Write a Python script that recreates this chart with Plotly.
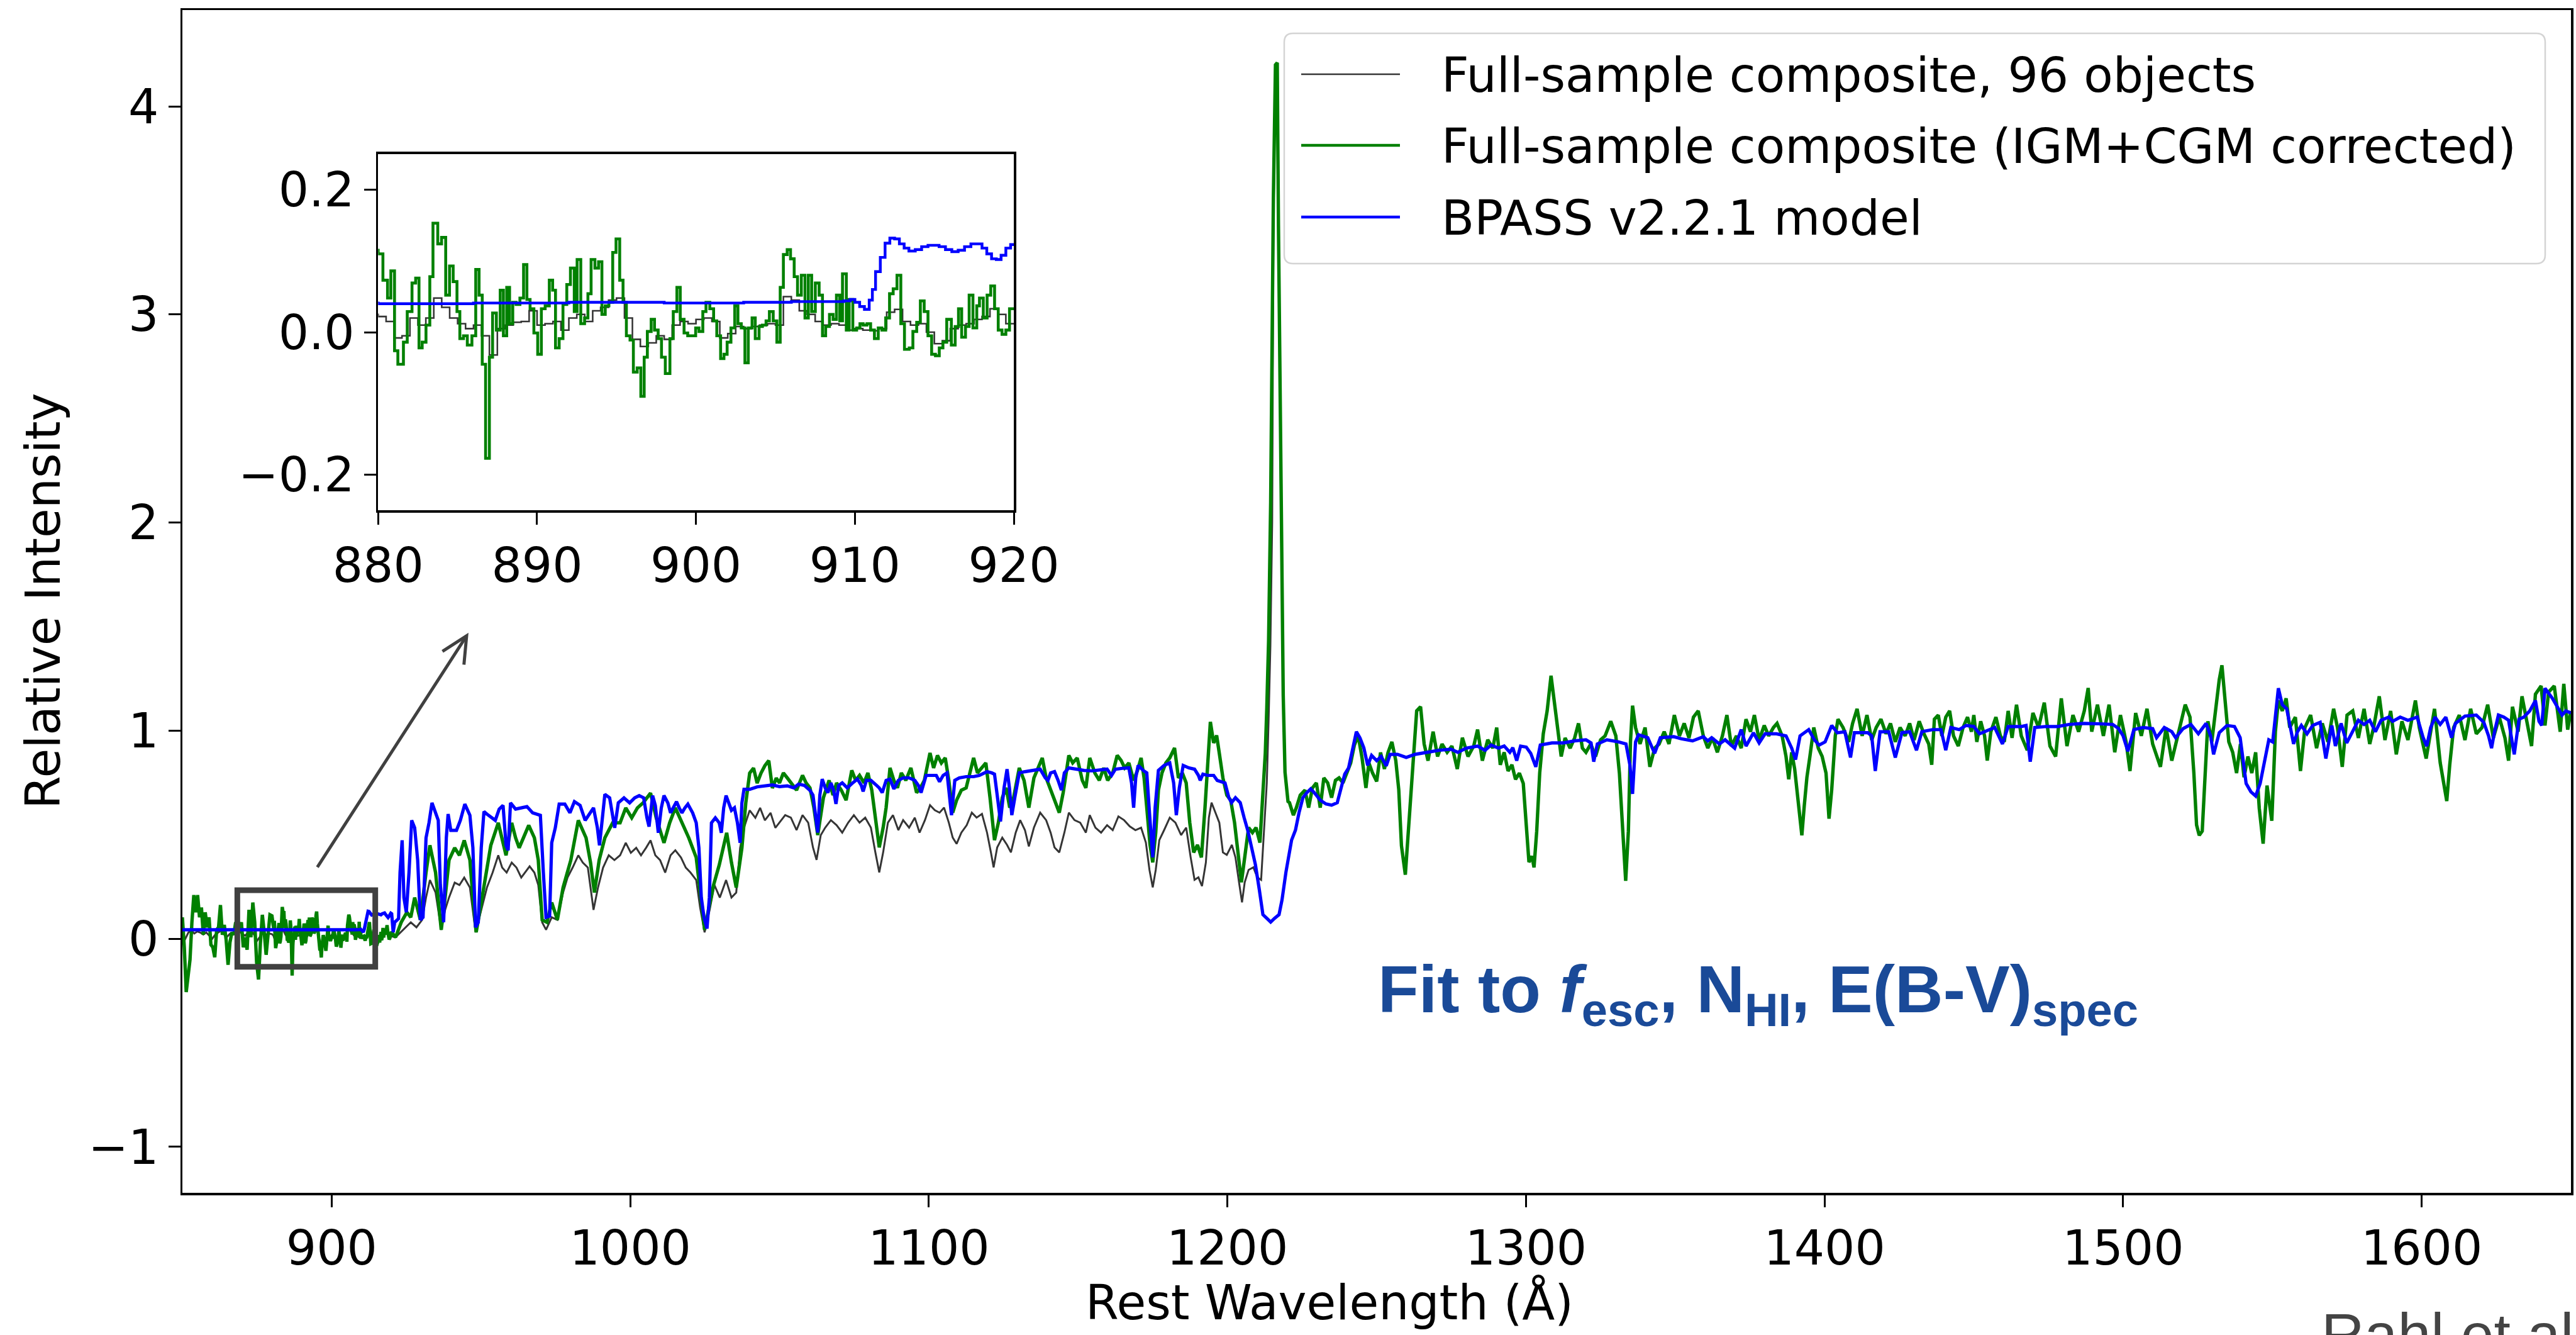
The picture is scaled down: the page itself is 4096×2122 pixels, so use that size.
import plotly.graph_objects as go

# ---------------- data ----------------
GREEN_WAVE = [
    850.0, 850.64, 851.28, 851.91, 852.55, 853.19, 853.83, 854.46, 855.1, 855.74, 856.38, 857.01,
    857.65, 858.29, 858.93, 859.56, 860.2, 860.84, 861.48, 862.11, 862.75, 863.39, 864.03, 864.66,
    865.3, 865.94, 866.58, 867.21, 867.85, 868.49, 869.13, 869.76, 870.4, 871.04, 871.68, 872.31,
    872.95, 873.59, 874.23, 874.86, 875.5, 876.14, 876.78, 877.41, 878.05, 878.69, 879.33,
    # 880-920 (fine binning, as seen in the inset)
    880.0, 880.3, 880.59, 880.8, 881.03, 881.24, 881.59, 881.83, 882.13, 882.36, 882.57, 882.77,
    883.01, 883.25, 883.45, 883.75, 883.99, 884.25, 884.49, 884.72, 884.96, 885.14, 885.37, 885.61,
    885.9, 886.14, 886.35, 886.55, 886.76, 887.0, 887.2, 887.44, 887.68, 887.88, 888.09, 888.27,
    888.47, 888.68, 888.92, 889.15, 889.36, 889.56, 889.8, 890.04, 890.27, 890.51, 890.77, 890.98,
    891.16, 891.39, 891.63, 891.87, 892.1, 892.34, 892.52, 892.75, 892.99, 893.2, 893.4, 893.64,
    893.87, 894.08, 894.29, 894.52, 894.76, 894.97, 895.2, 895.41, 895.62, 895.85, 896.06, 896.3,
    896.53, 896.74, 896.94, 897.18, 897.39, 897.62, 897.83, 898.07, 898.36, 898.57, 898.8, 899.01,
    899.25, 899.48, 899.72, 899.98, 900.19, 900.43, 900.63, 900.87, 901.11, 901.31, 901.55, 901.76,
    901.96, 902.2, 902.44, 902.64, 902.85, 903.08, 903.29, 903.53, 903.73, 903.97, 904.18, 904.41,
    904.62, 904.86, 905.09, 905.3, 905.5, 905.74, 905.95, 906.18, 906.39, 906.63, 906.86, 907.07,
    907.28, 907.51, 907.75, 907.96, 908.16, 908.4, 908.63, 908.84, 909.05, 909.22, 909.46, 909.64,
    909.87, 910.11, 910.32, 910.52, 910.76, 910.99, 911.23, 911.47, 911.7, 911.94, 912.18, 912.41,
    912.65, 912.89, 913.12, 913.42, 913.65, 913.89, 914.12, 914.36, 914.6, 914.83, 915.07, 915.31,
    915.54, 915.78, 916.07, 916.31, 916.52, 916.72, 916.96, 917.19, 917.43, 917.67, 917.84, 918.08,
    918.32, 918.55, 918.79, 919.02, 919.26, 919.5, 919.73, 920.0,
    # 920-1050
    921.4, 923.3, 925.2, 926.5, 927.8, 929.7, 931.6, 932.9, 934.8, 936.7, 938.0, 939.3, 941.2,
    942.8, 944.4, 946.3, 947.3, 948.4, 949.7, 951.4, 953.3, 955.8, 958.4, 960.3, 961.6, 962.8,
    964.8, 966.0, 967.9, 969.2, 970.5, 972.1, 973.7, 975.6, 977.5, 980.1, 982.6, 985.2, 986.7,
    988.0, 989.6, 991.5, 994.1, 996.6, 998.5, 1000.5, 1002.4, 1004.3, 1006.8, 1008.7, 1011.3,
    1013.2, 1015.1, 1017.0, 1019.6, 1022.1, 1023.7, 1024.9, 1026.2, 1027.9, 1029.8, 1032.3,
    1033.9, 1035.5, 1037.4, 1038.7, 1040.0, 1041.3, 1042.5, 1043.8, 1045.1, 1046.4, 1047.6, 1048.9,
    # 1050-1213
    1050.0, 1051.3, 1052.6, 1053.8, 1055.7, 1057.7, 1058.9, 1060.2, 1061.5, 1062.8, 1063.8, 1064.7,
    1066.6, 1067.9, 1069.1, 1070.7, 1072.3, 1074.2, 1075.5, 1076.8, 1078.3, 1079.6, 1080.9, 1081.9,
    1083.4, 1084.7, 1085.7, 1087.0, 1088.3, 1089.5, 1090.8, 1092.3, 1094.0, 1095.9, 1097.2, 1098.5,
    1100.4, 1101.6, 1102.9, 1104.2, 1105.5, 1106.7, 1108.0, 1109.3, 1110.9, 1112.5, 1113.8, 1115.0,
    1116.3, 1117.8, 1119.1, 1120.5, 1122.0, 1123.3, 1124.6, 1125.9, 1127.1, 1128.4, 1130.3, 1131.9,
    1133.5, 1135.2, 1136.7, 1138.0, 1139.3, 1140.8, 1142.1, 1143.7, 1145.0, 1146.9, 1148.2, 1149.7,
    1151.4, 1152.6, 1153.9, 1155.6, 1157.1, 1158.6, 1159.9, 1161.6, 1163.1, 1164.4, 1165.6, 1167.0,
    1168.6, 1169.9, 1171.1, 1172.1, 1173.0, 1174.1, 1175.0, 1176.0, 1176.9, 1178.1, 1179.4, 1180.7,
    1182.3, 1183.6, 1184.9, 1186.2, 1187.4, 1188.7, 1190.0, 1191.3, 1192.5, 1193.6, 1194.3, 1195.4,
    1196.4, 1197.4, 1198.5, 1199.8, 1201.1, 1202.4, 1203.6, 1204.7, 1205.8, 1207.1, 1208.4, 1209.6,
    1210.9, 1211.9, 1212.7, 1213.2,
    # Lyman alpha
    1213.8, 1214.5, 1215.4, 1216.1, 1216.7, 1217.1, 1217.4, 1218.0, 1218.7, 1219.3, 1220.3,
    # 1220-1250
    1220.8, 1222.1, 1223.1, 1224.4, 1226.0, 1227.2, 1228.5, 1229.8, 1231.1, 1232.3, 1233.6, 1234.9,
    1236.2, 1237.4, 1238.7, 1240.0, 1241.3, 1242.5, 1243.8, 1245.1, 1246.4, 1247.4, 1248.6,
    # 1250-1450
    1250.0, 1251.3, 1252.6, 1253.8, 1255.1, 1256.4, 1257.4, 1258.3, 1259.6, 1260.8, 1262.1, 1263.4,
    1264.7, 1265.9, 1267.2, 1268.9, 1270.4, 1271.9, 1273.6, 1275.2, 1277.0, 1278.7, 1280.6, 1282.5,
    1283.8, 1285.4, 1287.2, 1288.9, 1290.2, 1291.4, 1292.7, 1294.0, 1295.3, 1296.5, 1297.8, 1299.1,
    1300.1, 1301.0, 1302.0, 1302.7, 1303.6, 1304.6, 1305.8, 1307.1, 1308.4, 1309.4, 1310.6, 1311.8,
    1313.1, 1314.8, 1316.3, 1317.6, 1318.9, 1320.1, 1321.7, 1323.3, 1325.0, 1326.5, 1328.4, 1330.1,
    1331.3, 1332.4, 1333.4, 1334.3, 1335.0, 1335.7, 1336.7, 1338.2, 1339.9, 1341.5, 1343.1, 1344.6,
    1346.3, 1347.9, 1349.7, 1351.4, 1353.0, 1354.6, 1356.1, 1357.7, 1359.4, 1360.9, 1362.5, 1364.1,
    1365.8, 1367.3, 1368.8, 1370.5, 1372.1, 1373.7, 1375.2, 1376.5, 1378.1, 1379.8, 1381.3, 1382.9,
    1384.1, 1385.8, 1387.1, 1388.0, 1389.0, 1390.0, 1391.0, 1391.8, 1392.4, 1393.2, 1394.1, 1395.1,
    1396.4, 1397.9, 1399.2, 1400.5, 1401.5, 1402.4, 1403.6, 1404.5, 1406.2, 1408.1, 1409.4, 1410.9,
    1412.6, 1414.2, 1415.8, 1417.3, 1418.9, 1420.6, 1422.1, 1423.7, 1425.3, 1427.0, 1428.5, 1430.0,
    1431.7, 1433.3, 1434.9, 1435.9, 1436.8, 1438.1, 1439.3, 1440.6, 1441.9, 1443.2, 1444.8, 1446.4,
    1447.9, 1449.2,
    # 1450-1650
    1450.0, 1451.0, 1452.3, 1453.6, 1454.5, 1455.7, 1457.4, 1458.9, 1460.2, 1461.5, 1462.8, 1464.3,
    1465.9, 1467.9, 1469.8, 1471.7, 1473.6, 1475.5, 1477.4, 1479.3, 1481.2, 1483.2, 1485.1, 1487.0,
    1488.3, 1489.5, 1491.4, 1493.4, 1495.3, 1497.2, 1499.1, 1501.0, 1502.3, 1504.2, 1506.1, 1508.0,
    1509.9, 1512.5, 1514.4, 1516.3, 1518.9, 1520.8, 1522.4, 1523.7, 1524.6, 1525.5, 1526.5, 1527.5,
    1528.4, 1529.7, 1531.3, 1532.2, 1533.1, 1534.2, 1535.4, 1536.7, 1538.0, 1539.3, 1540.5, 1541.8,
    1543.1, 1544.4, 1545.6, 1546.9, 1548.2, 1549.8, 1551.0, 1552.0, 1553.3, 1554.6, 1555.8, 1557.7,
    1559.4, 1560.9, 1562.8, 1564.8, 1566.7, 1568.6, 1570.5, 1571.8, 1573.4, 1575.0, 1576.9, 1578.8,
    1580.7, 1582.6, 1583.9, 1585.8, 1587.7, 1589.6, 1591.5, 1593.4, 1595.4, 1597.9, 1599.2, 1601.5,
    1603.0, 1604.3, 1606.2, 1607.5, 1608.4, 1609.4, 1610.7, 1612.6, 1614.5, 1616.4, 1618.3, 1620.2,
    1622.1, 1624.0, 1626.0, 1627.9, 1629.1, 1630.4, 1632.3, 1633.6, 1635.5, 1636.8, 1638.1, 1640.0,
    1641.3, 1642.5, 1644.4, 1646.4, 1647.6, 1648.9, 1650.0,
]
GREEN_FLUX = [
    0.103, -0.041, -0.256, -0.160, -0.101, 0.079, 0.210, 0.127, 0.210, 0.103, 0.150, 0.019,
    0.127, 0.055, 0.103, -0.029, -0.041, -0.089, 0.043, 0.055, 0.162, 0.019, 0.067, -0.005,
    -0.125, -0.017, 0.031, 0.019, 0.079, 0.055, 0.043, 0.079, -0.041, 0.007, -0.053, 0.139,
    0.007, 0.174, 0.079, -0.113, -0.196, -0.017, 0.115, 0.031, -0.077, 0.019, 0.115,
    # 880-920
    0.110, 0.073, 0.048, 0.086, -0.026, -0.045, -0.014, 0.029, 0.069, 0.076, -0.022, -0.014,
    0.010, 0.078, 0.153, 0.124, 0.133, 0.052, 0.093, 0.071, 0.029, -0.009, -0.005, -0.018,
    -0.005, 0.088, 0.052, -0.045, -0.177, -0.035, 0.027, 0.003, 0.059, -0.005, 0.063, 0.012,
    0.042, 0.039, 0.048, 0.095, 0.046, 0.033, -0.001, -0.031, 0.033, 0.037, 0.073, 0.059,
    -0.022, -0.009, 0.039, 0.067, 0.090, 0.029, 0.102, 0.012, 0.020, 0.054, 0.102, 0.090,
    0.099, 0.025, 0.037, 0.042, 0.112, 0.131, 0.073, 0.042, -0.005, -0.011, -0.056, -0.050,
    -0.090, -0.035, 0.001, 0.018, 0.003, -0.009, -0.035, -0.058, -0.009, 0.029, 0.063, 0.018,
    -0.001, -0.005, -0.005, 0.006, 0.001, 0.029, 0.042, 0.033, 0.016, -0.005, -0.037, -0.031,
    -0.014, 0.006, 0.037, 0.012, 0.006, -0.043, 0.006, 0.020, -0.009, 0.008, 0.010, 0.016,
    0.029, 0.016, -0.014, 0.063, 0.109, 0.116, 0.103, 0.078, 0.052, 0.080, 0.020, 0.080,
    0.029, 0.069, 0.052, -0.005, 0.008, 0.025, 0.018, 0.052, 0.016, 0.082, 0.003, 0.046,
    0.003, 0.006, 0.012, 0.010, 0.012, 0.003, -0.009, 0.006, 0.003, 0.020, 0.054, 0.061,
    0.080, 0.012, -0.024, -0.022, 0.001, 0.014, 0.044, 0.029, -0.005, -0.031, -0.033, -0.022,
    -0.014, 0.018, -0.018, 0.008, 0.033, -0.007, 0.008, 0.052, 0.006, 0.037, 0.048, 0.020,
    0.052, 0.065, 0.033, 0.003, -0.003, 0.003, 0.033, 0.033,
    # 920-1050
    0.007, 0.079, 0.127, 0.103, 0.198, 0.091, 0.318, 0.449, 0.318, 0.043, 0.198, 0.378, 0.437,
    0.401, 0.473, 0.378, 0.198, 0.031, 0.139, 0.282, 0.449, 0.557, 0.401, 0.557, 0.485, 0.437,
    0.509, 0.545, 0.485, 0.378, 0.091, 0.079, 0.174, 0.091, 0.246, 0.378, 0.569, 0.485, 0.366,
    0.222, 0.378, 0.485, 0.557, 0.557, 0.629, 0.581, 0.629, 0.653, 0.700, 0.581, 0.461,
    0.557, 0.629, 0.569, 0.485, 0.390, 0.198, 0.043, 0.139, 0.258, 0.354, 0.509,
    0.366, 0.246, 0.437, 0.653, 0.796, 0.820, 0.748, 0.796, 0.832, 0.856, 0.724, 0.772,
    # 1050-1213
    0.749, 0.797, 0.773, 0.749, 0.714, 0.785, 0.749, 0.725, 0.630, 0.498, 0.582, 0.678,
    0.761, 0.690, 0.749, 0.714, 0.666, 0.809, 0.761, 0.785, 0.749, 0.797, 0.714, 0.594,
    0.439, 0.534, 0.630, 0.821, 0.761, 0.725, 0.797, 0.761, 0.821, 0.702, 0.725, 0.761,
    0.893, 0.821, 0.881, 0.845, 0.869, 0.761, 0.606, 0.666, 0.714, 0.725, 0.797, 0.869,
    0.797, 0.821, 0.845, 0.678, 0.474, 0.558, 0.678, 0.725, 0.630, 0.678, 0.821, 0.761,
    0.630, 0.773, 0.821, 0.869, 0.773, 0.714, 0.666, 0.606, 0.702, 0.881, 0.845, 0.869,
    0.761, 0.725, 0.869, 0.797, 0.761, 0.821, 0.761, 0.797, 0.881, 0.857, 0.821, 0.845,
    0.761, 0.809, 0.869, 0.773, 0.630, 0.451, 0.367, 0.510, 0.714, 0.797, 0.845, 0.869,
    0.917, 0.773, 0.797, 0.749, 0.558, 0.415, 0.451, 0.391, 0.630, 0.869, 1.042, 0.941,
    0.977, 0.881, 0.773, 0.690, 0.666, 0.558, 0.391, 0.271, 0.391, 0.534, 0.510, 0.534,
    0.462, 0.690, 0.893, 1.108,
    # Lyman alpha
    1.43, 2.10, 3.56, 4.20, 4.21, 3.43, 2.96, 1.97, 1.17, 0.80, 0.66,
    # 1220-1250
    0.654, 0.594, 0.630, 0.690, 0.714, 0.630, 0.725, 0.749, 0.630, 0.773, 0.749, 0.678,
    0.761, 0.773, 0.749, 0.797, 0.845, 0.929, 0.977, 0.869, 0.725, 0.845, 0.797,
    # 1250-1450
    0.756, 0.895, 0.816, 0.895, 0.946, 0.856, 0.716, 0.447, 0.308, 0.567, 0.836, 1.095,
    1.115, 0.936, 0.856, 0.995, 0.876, 0.936, 0.896, 0.926, 0.816, 0.966, 0.876, 0.926,
    1.005, 0.856, 0.956, 0.916, 1.015, 0.836, 0.896, 0.806, 0.836, 0.766, 0.796, 0.746,
    0.547, 0.368, 0.397, 0.343, 0.517, 0.796, 0.985, 1.095, 1.264, 1.155, 0.995, 0.876,
    0.965, 0.916, 0.965, 1.035, 0.916, 0.896, 0.936, 0.876, 0.956, 0.975, 1.045, 0.975,
    0.796, 0.497, 0.278, 0.517, 0.946, 1.120, 1.015, 0.936, 1.015, 0.826, 0.916, 0.936,
    0.995, 0.936, 1.075, 0.975, 1.035, 0.965, 1.065, 1.095, 0.975, 0.916, 0.965, 0.896,
    0.975, 1.075, 0.926, 0.975, 0.916, 1.055, 0.995, 1.075, 0.955, 1.025, 0.975, 1.015,
    1.035, 0.975, 0.876, 0.766, 0.896, 0.816, 0.696, 0.577, 0.497, 0.637, 0.776, 0.876,
    1.015, 0.916, 0.876, 0.796, 0.577, 0.716, 0.975, 1.055, 1.015, 0.946, 1.035, 1.105,
    0.975, 1.075, 0.955, 1.015, 1.055, 0.985, 1.035, 0.946, 1.015, 0.975, 1.035, 0.955,
    1.045, 0.985, 0.936, 0.836, 1.055, 1.075, 0.975, 1.065, 1.095, 0.975, 0.926, 1.015,
    1.065, 0.995,
    # 1450-1650
    1.075, 0.946, 1.045, 0.975, 0.856, 0.995, 1.065, 0.975, 0.946, 1.095, 0.965, 1.125,
    0.975, 0.906, 1.085, 1.015, 1.135, 0.926, 0.876, 1.155, 0.926, 1.075, 0.995, 1.095,
    1.205, 0.995, 1.125, 0.975, 1.125, 0.896, 1.075, 0.946, 0.806, 1.085, 0.975, 1.105,
    0.936, 0.826, 1.015, 0.856, 1.015, 1.125, 1.065, 0.796, 0.547, 0.497, 0.517, 0.776,
    1.045, 0.946, 1.145, 1.245, 1.314, 1.135, 0.946, 0.896, 0.796, 0.936, 0.776, 0.876,
    0.796, 0.896, 0.627, 0.457, 0.736, 0.567, 0.995, 1.145, 1.095, 1.155, 1.015, 1.065,
    0.806, 1.015, 1.075, 0.916, 1.035, 0.946, 1.105, 1.015, 0.826, 1.075, 1.095, 0.965,
    1.105, 0.936, 1.015, 1.165, 0.955, 1.095, 0.886, 1.045, 0.955, 1.145, 1.015, 0.866,
    0.995, 1.105, 0.846, 0.746, 0.662, 0.836, 1.015, 1.075, 0.955, 1.105, 0.985, 1.015,
    1.125, 0.965, 1.065, 0.965, 0.856, 1.115, 0.995, 1.165, 1.015, 0.926, 1.175, 1.215,
    1.025, 1.185, 1.215, 0.995, 1.225, 1.005, 1.095,
]

GRAY_WAVE = [
    850.0, 851.0, 852.0, 853.0, 854.0, 855.0, 856.0, 857.0, 858.0, 859.0, 860.0, 861.0, 862.0,
    863.0, 864.0, 865.0, 866.0, 867.0, 868.0, 869.0, 870.0, 871.0, 872.0, 873.0, 874.0, 875.0,
    876.0, 877.0, 878.0, 879.0,
    880.0, 880.5, 881.0, 881.5, 882.0, 882.5, 883.0, 883.5, 884.0, 884.5, 885.0, 885.5, 886.0,
    886.5, 887.0, 887.5, 888.0, 888.5, 889.0, 889.5, 890.0, 890.5, 891.0, 891.5, 892.0, 892.5,
    893.0, 893.5, 894.0, 894.5, 895.0, 895.5, 896.0, 896.5, 897.0, 897.5, 898.0, 898.5, 899.0,
    899.5, 900.0, 900.5, 901.0, 901.5, 902.0, 902.5, 903.0, 903.5, 904.0, 904.5, 905.0, 905.5,
    906.0, 906.5, 907.0, 907.5, 908.0, 908.5, 909.0, 909.5, 910.0, 910.5, 911.0, 911.5, 912.0,
    912.5, 913.0, 913.5, 914.0, 914.5, 915.0, 915.5, 916.0, 916.5, 917.0, 917.5, 918.0, 918.5,
    919.0, 919.5, 920.0,
    921.4, 923.9, 926.5, 928.4, 930.3, 931.6, 932.9, 934.8, 936.7, 938.0, 939.3, 941.2, 942.8,
    944.4, 946.3, 948.2, 950.1, 952.0, 953.9, 955.8, 957.1, 958.6, 960.3, 961.9, 963.5, 964.8,
    966.3, 967.9, 969.2, 970.5, 971.8, 973.7, 975.6, 977.5, 979.0, 980.7, 982.6, 984.1, 985.8,
    987.7, 989.2, 990.9, 992.8, 994.7, 996.6, 998.5, 1000.2, 1002.0, 1003.6, 1005.3, 1006.8,
    1008.4, 1010.0, 1011.7, 1013.5, 1015.1, 1017.0, 1018.6, 1020.2, 1022.1, 1023.4, 1024.9,
    1026.6, 1028.2, 1030.0, 1032.1, 1033.9, 1035.5, 1036.8, 1038.1, 1040.0, 1041.9, 1043.5,
    1045.1, 1047.0, 1048.6,
    1050.0, 1051.9, 1053.8, 1055.7, 1057.7, 1059.6, 1061.2, 1062.4, 1063.8, 1065.3, 1067.2,
    1069.1, 1071.0, 1073.0, 1074.9, 1076.8, 1078.7, 1080.6, 1082.1, 1083.4, 1084.7, 1086.3,
    1088.0, 1089.8, 1091.4, 1093.4, 1095.3, 1096.9, 1098.7, 1100.4, 1102.0, 1103.6, 1105.1,
    1106.7, 1108.0, 1109.3, 1110.9, 1112.7, 1114.4, 1116.0, 1117.8, 1119.5, 1120.8, 1121.7,
    1122.9, 1124.6, 1126.2, 1127.5, 1129.1, 1130.6, 1132.2, 1133.5, 1135.2, 1137.3, 1139.3,
    1140.8, 1142.1, 1143.7, 1145.4, 1146.9, 1148.8, 1150.7, 1152.6, 1153.9, 1155.8, 1157.7,
    1159.7, 1161.6, 1163.5, 1165.4, 1167.3, 1169.2, 1171.1, 1172.7, 1173.9, 1175.0, 1176.0,
    1177.2, 1178.8, 1180.7, 1182.6, 1184.5, 1186.2, 1187.7, 1189.0, 1190.3, 1191.5, 1192.8,
    1193.8, 1194.7, 1196.0, 1197.3, 1198.5, 1199.8, 1201.5, 1202.7, 1203.9, 1204.9, 1205.8,
    1207.1, 1208.7, 1210.0, 1211.3, 1212.2, 1213.2, 1213.8, 1214.4,
    1215.0, 1215.4, 1216.1, 1216.7, 1217.1, 1217.4, 1218.0, 1218.7, 1219.3, 1220.3, 1220.8, 1222.1,
]
GRAY_FLUX = [
    0.020, 0.000, 0.030, 0.040, 0.025, 0.035, 0.030, 0.020, 0.030, 0.015, 0.000, 0.020, 0.030,
    0.040, 0.020, 0.010, 0.025, 0.030, 0.020, 0.035, 0.025, 0.015, 0.030, 0.040, 0.020, -0.010,
    0.010, 0.030, 0.020, 0.025,
    0.022, 0.015, -0.008, -0.005, 0.020, 0.010, 0.020, 0.048, 0.035, 0.020, 0.012, 0.005, 0.010,
    -0.005, -0.032, 0.005, 0.010, 0.014, 0.015, 0.030, 0.010, 0.012, 0.015, 0.003, 0.020, 0.025,
    0.015, 0.030, 0.035, 0.045, 0.048, 0.020, -0.010, -0.020, -0.015, -0.005, -0.010, 0.010, 0.015,
    0.012, 0.018, 0.020, 0.015, -0.008, -0.002, 0.008, 0.005, 0.008, 0.010, 0.012, 0.010, 0.050,
    0.045, 0.030, 0.025, 0.015, 0.010, 0.012, 0.010, 0.003, 0.005, 0.003, 0.002, 0.005, 0.028,
    0.032, 0.015, 0.010, 0.012, 0.000, -0.016, -0.012, 0.005, 0.010, 0.012, 0.018, 0.022, 0.033,
    0.025, 0.012, 0.012,
    0.007, 0.043, 0.079, 0.055, 0.091, 0.198, 0.282, 0.222, 0.043, 0.139, 0.198, 0.270, 0.258,
    0.294, 0.246, 0.031, 0.139, 0.246, 0.318, 0.401, 0.342, 0.318, 0.366, 0.342, 0.294, 0.318,
    0.348, 0.318, 0.258, 0.079, 0.043, 0.103, 0.091, 0.222, 0.294, 0.342, 0.401, 0.366, 0.342,
    0.139, 0.246, 0.342, 0.401, 0.378, 0.401, 0.461, 0.413, 0.437, 0.401, 0.437, 0.473,
    0.401, 0.378, 0.318, 0.401, 0.425, 0.390, 0.342, 0.318, 0.282, 0.150, 0.031,
    0.139, 0.258, 0.198, 0.282, 0.198, 0.222, 0.437, 0.533, 0.617, 0.581, 0.629,
    0.569, 0.605, 0.533,
    0.558, 0.594, 0.582, 0.522, 0.594, 0.558, 0.439, 0.379, 0.498, 0.534, 0.570,
    0.546, 0.510, 0.558, 0.594, 0.558, 0.582, 0.534, 0.415, 0.319, 0.415, 0.558,
    0.594, 0.522, 0.570, 0.534, 0.582, 0.510, 0.570, 0.642, 0.618, 0.606, 0.630,
    0.558, 0.486, 0.456, 0.510, 0.546, 0.606, 0.582, 0.600, 0.510, 0.415, 0.343,
    0.439, 0.486, 0.451, 0.415, 0.510, 0.570, 0.522, 0.444, 0.534, 0.606, 0.570,
    0.510, 0.439, 0.415, 0.510, 0.606, 0.570, 0.558, 0.510, 0.594, 0.534, 0.510,
    0.546, 0.522, 0.588, 0.570, 0.540, 0.522, 0.534, 0.462, 0.331, 0.247, 0.331,
    0.474, 0.522, 0.582, 0.558, 0.498, 0.534, 0.391, 0.283, 0.295, 0.253, 0.367,
    0.582, 0.654, 0.606, 0.558, 0.415, 0.403, 0.451, 0.391, 0.271, 0.175, 0.271,
    0.331, 0.343, 0.295, 0.283, 0.510, 0.749, 1.048, 1.407,
    2.00, 3.40, 4.15, 4.18, 3.43, 2.96, 1.97, 1.17, 0.80, 0.66, 0.654, 0.594,
]

BLUE_WAVE = [
    850.0, 858.0, 866.0, 874.0, 880.0, 886.0, 892.0, 898.0, 903.0, 906.0, 908.0, 909.3, 909.7,
    910.0, 910.3, 910.6, 910.9, 911.1, 911.3, 911.6, 911.9, 912.2, 912.5, 912.8, 913.1, 913.4,
    913.8, 914.2, 914.6, 914.9, 915.3, 915.7, 916.1, 916.5, 916.9, 917.3, 917.7, 918.0, 918.3,
    918.6, 918.9, 919.2, 919.5, 919.8, 920.1, 920.6, 921.1, 922.4, 922.9, 923.6, 924.2, 925.0,
    925.9, 926.8, 927.8, 928.8, 929.7, 930.6, 931.6, 932.6, 933.6, 934.8, 935.7, 936.4, 937.5,
    938.4, 939.0, 939.9, 941.8, 943.1, 944.6, 946.3, 947.3, 948.2, 949.1, 950.1, 951.0, 952.0,
    953.5, 954.8, 956.1, 957.4, 958.4, 959.1, 959.9, 961.6, 963.5, 965.4, 967.3, 969.9, 970.9,
    971.8, 973.0, 973.7, 974.9, 976.2, 978.1, 979.8, 981.3, 983.2, 984.9, 986.4, 987.7, 989.0,
    989.7, 990.5, 991.5, 993.1, 994.1, 994.8, 996.0, 997.9, 999.8, 1001.5, 1003.0, 1004.5,
    1005.6, 1006.3, 1007.5, 1008.4, 1009.4, 1010.4, 1011.3, 1012.6, 1013.5, 1014.5, 1015.5,
    1016.4, 1017.3, 1018.3, 1019.3, 1020.9, 1022.1, 1023.0, 1023.8, 1024.7, 1025.7, 1026.5,
    1027.2, 1028.5, 1029.8, 1030.5, 1031.3, 1032.1, 1033.1, 1033.9, 1034.9, 1035.9, 1036.8,
    1037.4, 1038.1, 1040.0, 1042.5, 1045.1, 1047.6,
    1050.0, 1052.6, 1054.8, 1056.4, 1058.3, 1060.2, 1061.2, 1062.0, 1062.8, 1063.5, 1064.3,
    1065.3, 1066.2, 1067.2, 1068.1, 1068.9, 1069.8, 1071.0, 1072.7, 1074.5, 1076.1, 1077.4,
    1078.0, 1079.1, 1080.6, 1082.5, 1083.4, 1084.4, 1085.7, 1087.0, 1088.3, 1089.8, 1091.4,
    1093.4, 1095.3, 1096.5, 1097.4, 1099.1, 1101.0, 1102.5, 1103.6, 1104.8, 1106.1, 1106.9,
    1107.6, 1108.7, 1110.2, 1112.5, 1115.0, 1116.9, 1119.5, 1121.1, 1122.0, 1122.9, 1124.0,
    1125.2, 1126.2, 1127.0, 1127.8, 1128.8, 1130.3, 1132.2, 1134.8, 1137.3, 1139.0, 1139.9,
    1140.8, 1142.1, 1143.3, 1144.4, 1145.4, 1146.9, 1149.5, 1152.0, 1154.6, 1157.1, 1159.7,
    1161.2, 1162.5, 1164.8, 1167.0, 1167.9, 1168.6, 1169.3, 1170.1, 1171.8, 1173.0, 1173.9,
    1175.0, 1175.8, 1176.9, 1178.8, 1180.7, 1182.0, 1182.9, 1183.9, 1185.2, 1187.1, 1189.0,
    1190.3, 1190.9, 1191.8, 1193.4, 1195.4, 1196.6, 1197.9, 1199.2, 1200.5, 1201.4, 1202.7,
    1204.3, 1205.6, 1206.8, 1208.1, 1209.4, 1210.7, 1211.9, 1213.2, 1214.5, 1215.8, 1217.3,
    1218.3, 1219.6, 1221.5, 1222.8, 1224.0, 1225.3, 1226.6, 1227.9, 1229.1, 1231.1, 1233.0,
    1234.9, 1236.8, 1238.1, 1239.3, 1240.6, 1241.9, 1243.2, 1244.4, 1245.7, 1247.0, 1248.3,
    1250.0, 1251.5, 1253.2, 1254.5, 1257.0, 1259.9, 1262.8, 1266.6, 1271.0, 1274.9, 1277.2,
    1280.0, 1283.8, 1286.3, 1288.3, 1290.8, 1292.7, 1294.6, 1295.6, 1296.9, 1298.2, 1300.1,
    1301.6, 1303.3, 1304.8, 1308.7, 1312.5, 1316.3, 1320.1, 1321.8, 1322.7, 1323.9, 1327.1,
    1331.0, 1333.5, 1334.8, 1335.7, 1336.7, 1337.7, 1340.8, 1343.1, 1345.0, 1349.5, 1352.0,
    1355.8, 1359.4, 1360.9, 1362.2, 1364.8, 1366.7, 1369.9, 1372.1, 1373.7, 1376.2, 1378.1,
    1380.1, 1383.9, 1387.1, 1389.0, 1390.3, 1391.8, 1394.7, 1396.6, 1398.2, 1400.2, 1402.4,
    1404.3, 1406.8, 1408.7, 1410.0, 1414.5, 1415.8, 1417.0, 1418.6, 1421.5, 1423.7, 1425.9,
    1428.5, 1430.8, 1432.6, 1436.2, 1439.0, 1440.6, 1442.3, 1445.1, 1447.4,
    1450.0, 1451.9, 1455.1, 1457.0, 1459.6, 1461.5, 1465.9, 1467.5, 1468.9, 1470.4, 1474.2,
    1478.1, 1481.9, 1487.0, 1492.1, 1496.5, 1498.5, 1500.0, 1501.6, 1503.6, 1506.7, 1509.9,
    1511.2, 1513.8, 1516.3, 1517.6, 1520.1, 1522.7, 1525.2, 1527.8, 1529.3, 1530.3, 1532.2,
    1534.8, 1537.3, 1539.2, 1540.3, 1541.2, 1542.8, 1544.4, 1545.9, 1547.2, 1548.8, 1550.1,
    1552.0, 1553.3, 1554.8, 1557.1, 1558.4, 1559.7, 1561.6, 1563.5, 1566.0, 1567.9, 1569.9,
    1571.1, 1573.0, 1574.9, 1576.9, 1578.8, 1580.7, 1582.6, 1584.5, 1586.4, 1589.0, 1590.3,
    1592.8, 1595.4, 1598.5, 1600.5, 1601.7, 1603.0, 1604.5, 1606.2, 1608.1, 1610.0, 1611.3,
    1614.5, 1618.3, 1620.8, 1622.4, 1623.4, 1624.4, 1625.7, 1627.5, 1629.1, 1631.0, 1632.6,
    1634.2, 1636.2, 1638.1, 1639.3, 1640.2, 1641.3, 1643.8, 1645.7, 1647.0, 1648.3, 1650.0,
]
BLUE_FLUX = [
    0.043, 0.043, 0.042, 0.041, 0.040, 0.041, 0.042, 0.041, 0.042, 0.043, 0.043, 0.044, 0.046,
    0.042, 0.036, 0.032, 0.045, 0.060, 0.085, 0.105, 0.125, 0.132, 0.131, 0.124, 0.118, 0.114,
    0.116, 0.120, 0.122, 0.122, 0.120, 0.116, 0.113, 0.115, 0.120, 0.124, 0.124, 0.118, 0.110,
    0.103, 0.102, 0.108, 0.118, 0.123, 0.120, 0.031, 0.079, 0.097, 0.318, 0.473, 0.198, 0.127,
    0.318, 0.569, 0.533, 0.378, 0.091, 0.103, 0.485, 0.557, 0.653, 0.605, 0.569, 0.258, 0.079,
    0.485, 0.599, 0.521, 0.521, 0.569, 0.647, 0.593, 0.437, 0.055, 0.079, 0.437, 0.611, 0.599,
    0.581, 0.569, 0.623, 0.641, 0.449, 0.425, 0.653, 0.623, 0.629, 0.635, 0.605, 0.593, 0.318,
    0.103, 0.109, 0.461, 0.533, 0.647, 0.647, 0.605, 0.659, 0.641, 0.569, 0.605, 0.629, 0.533,
    0.449, 0.557, 0.694, 0.677, 0.581, 0.533, 0.653, 0.677, 0.653, 0.677, 0.688, 0.677,
    0.581, 0.539, 0.688, 0.641, 0.509, 0.629, 0.688, 0.653, 0.605, 0.629, 0.659,
    0.629, 0.605, 0.629, 0.647, 0.605, 0.557, 0.437, 0.198, 0.103, 0.049, 0.198,
    0.557, 0.581, 0.557, 0.509, 0.629, 0.688, 0.653, 0.617, 0.629, 0.557, 0.461,
    0.653, 0.718, 0.718, 0.730, 0.736, 0.739,
    0.731, 0.735, 0.725, 0.743, 0.737, 0.713, 0.690, 0.582, 0.510, 0.690, 0.767,
    0.725, 0.702, 0.749, 0.714, 0.648, 0.737, 0.749, 0.725, 0.749, 0.767, 0.737,
    0.708, 0.761, 0.761, 0.737, 0.725, 0.702, 0.761, 0.767, 0.720, 0.761, 0.773,
    0.773, 0.761, 0.737, 0.702, 0.785, 0.785, 0.785, 0.755, 0.785, 0.797, 0.690,
    0.594, 0.761, 0.773, 0.779, 0.779, 0.785, 0.803, 0.797, 0.791, 0.690, 0.564,
    0.725, 0.815, 0.725, 0.594, 0.678, 0.797, 0.803, 0.809, 0.815, 0.773, 0.761,
    0.797, 0.803, 0.761, 0.714, 0.797, 0.821, 0.815, 0.809, 0.807, 0.812, 0.815,
    0.785, 0.815, 0.819, 0.821, 0.749, 0.630, 0.773, 0.833, 0.809, 0.797, 0.606,
    0.391, 0.630, 0.809, 0.833, 0.845, 0.749, 0.594, 0.725, 0.833, 0.821, 0.815,
    0.785, 0.761, 0.791, 0.785, 0.785, 0.761, 0.755, 0.749, 0.678, 0.654, 0.678,
    0.654, 0.582, 0.522, 0.439, 0.355, 0.235, 0.116, 0.098, 0.080, 0.098, 0.116,
    0.187, 0.319, 0.474, 0.522, 0.606, 0.678, 0.702, 0.720, 0.702, 0.666, 0.648,
    0.642, 0.654, 0.725, 0.791, 0.821, 0.917, 0.995, 0.965, 0.917, 0.833, 0.881,
    0.856, 0.876, 0.831, 0.886, 0.886, 0.871, 0.886, 0.896, 0.906, 0.911, 0.896,
    0.916, 0.926, 0.906, 0.931, 0.916, 0.926, 0.896, 0.918, 0.856, 0.926, 0.921,
    0.891, 0.826, 0.931, 0.941, 0.941, 0.951, 0.956, 0.941, 0.851, 0.936, 0.956,
    0.946, 0.936, 0.836, 0.696, 0.946, 0.980, 0.966, 0.891, 0.966, 0.971, 0.961,
    0.951, 0.971, 0.951, 0.966, 0.936, 0.956, 0.916, 1.005, 0.926, 0.990, 0.941,
    0.985, 0.985, 0.975, 0.916, 0.861, 0.975, 1.005, 0.956, 0.931, 0.946, 1.025,
    0.990, 0.995, 0.871, 0.990, 0.990, 0.975, 0.806, 0.995, 0.995, 0.871, 0.990,
    0.995, 0.906, 0.995, 1.005, 1.005, 0.906, 1.015, 1.005, 1.025,
    1.020, 0.985, 1.005, 1.015, 0.936, 1.020, 1.020, 1.025, 0.851, 1.015, 1.020,
    1.020, 1.030, 1.035, 1.033, 1.030, 1.010, 0.975, 0.901, 1.005, 1.015, 1.010,
    0.966, 1.015, 0.995, 0.966, 1.010, 1.030, 0.985, 1.035, 0.975, 0.886, 0.990,
    1.025, 1.020, 0.966, 0.846, 0.746, 0.706, 0.686, 0.746, 0.836, 0.956, 0.946,
    1.204, 1.125, 1.105, 0.936, 0.995, 1.025, 0.985, 1.025, 1.040, 0.866, 1.025,
    0.926, 1.035, 0.941, 0.995, 1.050, 1.030, 1.050, 0.995, 1.050, 1.065, 1.045,
    1.065, 1.050, 1.065, 0.966, 0.926, 1.015, 1.065, 1.030, 1.065, 0.966, 1.035,
    1.070, 1.075, 1.040, 0.975, 0.916, 0.995, 1.075, 1.065, 1.050, 0.886, 1.055,
    1.065, 1.095, 1.145, 1.045, 1.025, 1.204, 1.155, 1.105, 1.075, 1.095, 1.085,
]

X_TICKS = [900, 1000, 1100, 1200, 1300, 1400, 1500, 1600]
Y_TICKS = [-1, 0, 1, 2, 3, 4]
Y_TICKTEXT = ["\u22121", "0", "1", "2", "3", "4"]
INSET_X_TICKS = [880, 890, 900, 910, 920]
INSET_Y_TICKS = [-0.2, 0.0, 0.2]
INSET_Y_TICKTEXT = ["\u22120.2", "0.0", "0.2"]

NAMES = ["Full-sample composite, 96 objects",
         "Full-sample composite (IGM+CGM corrected)",
         "BPASS v2.2.1 model"]
COLORS = ["#353535", "#008000", "#0000ff"]
WIDTHS = [3.0, 5.4, 5.2]
LEGEND_WIDTHS = [2.6, 4.4, 4.4]

# ---------------- layout geometry (output pixels) ----------------
W, H = 4096, 2122
ML, MR, MT, MB = 290, 8, 16, 226
PW, PH = W - ML - MR, H - MT - MB


def px(xp):
    return (xp - ML) / PW


def py(yp):
    return (H - MB - yp) / PH


FONT = "DejaVu Sans"
FS = 76

fig = go.Figure()
series = [(GRAY_WAVE, GRAY_FLUX), (GREEN_WAVE, GREEN_FLUX), (BLUE_WAVE, BLUE_FLUX)]
for (wv, fl), nm, col, lw in zip(series, NAMES, COLORS, WIDTHS):
    fig.add_trace(go.Scatter(x=wv, y=fl, mode="lines", name=nm,
                             line=dict(color=col, width=lw),
                             xaxis="x", yaxis="y", showlegend=False))
for (wv, fl), nm, col, lw in zip(series, NAMES, COLORS, WIDTHS):
    fig.add_trace(go.Scatter(x=wv, y=fl, mode="lines", name=nm,
                             line=dict(color=col, width=lw * 0.85, shape="hv"),
                             xaxis="x2", yaxis="y2", showlegend=False))

axis_common = dict(ticks="outside", ticklen=19, tickwidth=3, tickcolor="black",
                   showline=True, linewidth=3.5, linecolor="black", mirror=True,
                   showgrid=False, zeroline=False, automargin=False,
                   tickfont=dict(family=FONT, size=FS, color="black"))

fig.update_layout(
    template="none",
    width=W, height=H, autosize=False,
    margin=dict(l=ML, r=MR, t=MT, b=MB, pad=0, autoexpand=False),
    paper_bgcolor="white", plot_bgcolor="white",
    showlegend=False,
    xaxis=dict(domain=[0, 1], range=[850, 1650], tickvals=X_TICKS, anchor="y", **axis_common),
    yaxis=dict(domain=[0, 1], range=[-1.221, 4.463], tickvals=Y_TICKS, ticktext=Y_TICKTEXT,
               anchor="x", **axis_common),
    xaxis2=dict(domain=[px(601.3), px(1612)], range=[880, 920], tickvals=INSET_X_TICKS,
                anchor="y2", **axis_common),
    yaxis2=dict(domain=[py(811.2), py(244.9)], range=[-0.25, 0.25], tickvals=INSET_Y_TICKS,
                ticktext=INSET_Y_TICKTEXT, anchor="x2", **axis_common),
)

shapes = []
# zoom box on the main axes
shapes.append(dict(type="rect", xref="x", yref="y", x0=868.4, x1=914.6, y0=-0.135, y1=0.233,
                   line=dict(color="#404040", width=9), fillcolor="rgba(0,0,0,0)", layer="above"))
# arrow
shapes.append(dict(type="line", xref="x", yref="y", x0=895.2, y0=0.344, x1=945.2, y1=1.456,
                   line=dict(color="#404040", width=5), layer="above"))
shapes.append(dict(type="path", xref="x", yref="y",
                   path="M 937.1,1.381 L 945.2,1.456 L 944.3,1.317",
                   line=dict(color="#404040", width=5), layer="above"))

# legend frame (rounded)
x0, x1, y0, y1, r = 2042, 4047, 53, 419, 14


def P(a, b):
    return f"{px(a):.6f},{py(b):.6f}"


legend_path = (f"M {P(x0 + r, y0)} L {P(x1 - r, y0)} Q {P(x1, y0)} {P(x1, y0 + r)} "
               f"L {P(x1, y1 - r)} Q {P(x1, y1)} {P(x1 - r, y1)} "
               f"L {P(x0 + r, y1)} Q {P(x0, y1)} {P(x0, y1 - r)} "
               f"L {P(x0, y0 + r)} Q {P(x0, y0)} {P(x0 + r, y0)} Z")
shapes.append(dict(type="path", xref="paper", yref="paper", path=legend_path,
                   fillcolor="rgba(255,255,255,0.8)", line=dict(color="#d4d4d4", width=2.5),
                   layer="above"))
annotations = []
rows = [118, 231, 345]
for rowy, nm, col, lw in zip(rows, NAMES, COLORS, LEGEND_WIDTHS):
    shapes.append(dict(type="line", xref="paper", yref="paper", x0=px(2069), x1=px(2226),
                       y0=py(rowy), y1=py(rowy), line=dict(color=col, width=lw), layer="above"))
    annotations.append(dict(text=nm, xref="paper", yref="paper", x=px(2290), y=py(rowy + 1.5),
                            xanchor="left", yanchor="middle", showarrow=False,
                            font=dict(family=FONT, size=FS, color="black")))

# axis titles
annotations.append(dict(text="Rest Wavelength (Å)", xref="paper", yref="paper",
                        x=px(2114), y=py(2024), xanchor="center", yanchor="top",
                        showarrow=False, font=dict(family=FONT, size=FS, color="black")))
annotations.append(dict(text="Relative Intensity", xref="paper", yref="paper",
                        x=px(68), y=py(956), xanchor="center", yanchor="middle", textangle=-90,
                        showarrow=False, font=dict(family=FONT, size=FS, color="black")))
# fit label
annotations.append(dict(text="<b>Fit to <i>f</i><sub>esc</sub>, N<sub>HI</sub>, E(B-V)<sub>spec</sub></b>",
                        xref="paper", yref="paper", x=px(2189), y=py(1580),
                        xanchor="left", yanchor="middle", showarrow=False,
                        font=dict(family="Liberation Sans", size=106, color="#1a4a98")))
# credit (cut at the figure edge as in the reference)
annotations.append(dict(text="Rahl et al.", xref="paper", yref="paper",
                        x=px(3690), y=py(2067), xanchor="left", yanchor="top",
                        showarrow=False, borderpad=0,
                        font=dict(family="Liberation Sans", size=95, color="#444444")))

fig.update_layout(shapes=shapes, annotations=annotations)

fig.write_html("out.html",
               config={"displayModeBar": False, "staticPlot": True},
               post_script="document.body.style.margin='0';document.body.style.overflow='hidden';")
